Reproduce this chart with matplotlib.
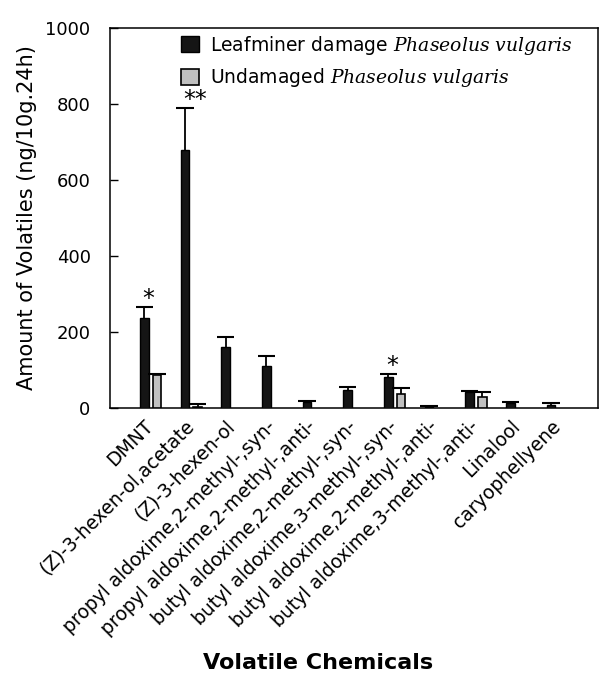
import matplotlib.pyplot as plt
import numpy as np

plt.rcParams['font.family'] = ['DejaVu Sans']
plt.rcParams['mathtext.fontset'] = 'custom'
plt.rcParams['mathtext.it'] = 'DejaVu Serif:italic'
plt.rcParams['mathtext.rm'] = 'DejaVu Serif'

chemicals = ["DMNT", "(Z)-3-hexen-ol,acetate", "(Z)-3-hexen-ol",
             "propyl aldoxime,2-methyl-,syn-", "propyl aldoxime,2-methyl-,anti-",
             "butyl aldoxime,2-methyl-,syn-", "butyl aldoxime,3-methyl-,syn-",
             "butyl aldoxime,2-methyl-,anti-", "butyl aldoxime,3-methyl-,anti-",
             "Linalool", "caryophellyene"]
damaged = [236, 679, 160, 111, 15, 47, 82, 3, 43, 12, 8]
damaged_err = [31, 110, 28, 27, 4, 9, 7, 3, 3, 5, 4]
undamaged = [88, 3, 0, 0, 0, 0, 37, 0, 30, 0, 0]
undamaged_err = [2, 7, 0, 0, 0, 0, 15, 0, 11, 0, 0]
stars = {0: "*", 1: "**", 6: "*"}

x = np.arange(len(chemicals))
w = 0.21
off = 0.155
cap = 0.215

fig = plt.figure(figsize=(6.16, 6.89), dpi=100)
ax = fig.add_axes([0.1786, 0.4078, 0.7922, 0.5516])

d = np.array(damaged, float)
u = np.array(undamaged, float)
de = np.array(damaged_err, float)
ue = np.array(undamaged_err, float)
m = u > 0

ax.bar(x - off, d, w, color='#151515', edgecolor='black', linewidth=1,
       label=r"Leafminer damage $\mathit{Phaseolus\ vulgaris}$", zorder=3)
ax.bar(x[m] + off, u[m], w, color='#c0c0c0', edgecolor='black', linewidth=1.2,
       label=r"Undamaged $\mathit{Phaseolus\ vulgaris}$", zorder=3)

# upper error bars only
for xs, ys, es in [(x - off, d, de), (x[m] + off, u[m], ue[m])]:
    ax.vlines(xs, ys, ys + es, color='black', linewidth=1.3, zorder=2)
    ax.hlines(ys + es, xs - cap, xs + cap, color='black', linewidth=1.5, zorder=4)

for i, s in stars.items():
    ax.annotate(s, (x[i] - off, d[i] + de[i]), xytext=(3 if len(s) == 1 else 7, -3),
                textcoords='offset points', ha='center', va='bottom', fontsize=17)

ax.set_xlim(-1, 11)
ax.set_ylim(0, 1000)
ax.set_yticks([0, 200, 400, 600, 800, 1000])
ax.tick_params(axis='y', direction='in', length=6, width=1, pad=14, labelsize=13)
ax.tick_params(axis='x', length=0, pad=11)
ax.set_xticks(x)
ax.set_xticklabels(chemicals, rotation=45, ha='right', va='center',
                   rotation_mode='anchor', fontsize=13.5)
for sp in ax.spines.values():
    sp.set_linewidth(1.1)

ax.set_ylabel("Amount of Volatiles (ng/10g.24h)", fontsize=15, labelpad=6)
fig.text(0.517, 0.038, "Volatile Chemicals", ha='center', va='center',
         fontsize=16, fontweight='bold')

ax.legend(loc='upper left', bbox_to_anchor=(0.145, 0.985), frameon=False,
          fontsize=13.5, handlelength=0.95, handleheight=0.95, handletextpad=0.6,
          labelspacing=0.5, borderpad=0, borderaxespad=0)

fig.savefig("out.png", dpi=100)
